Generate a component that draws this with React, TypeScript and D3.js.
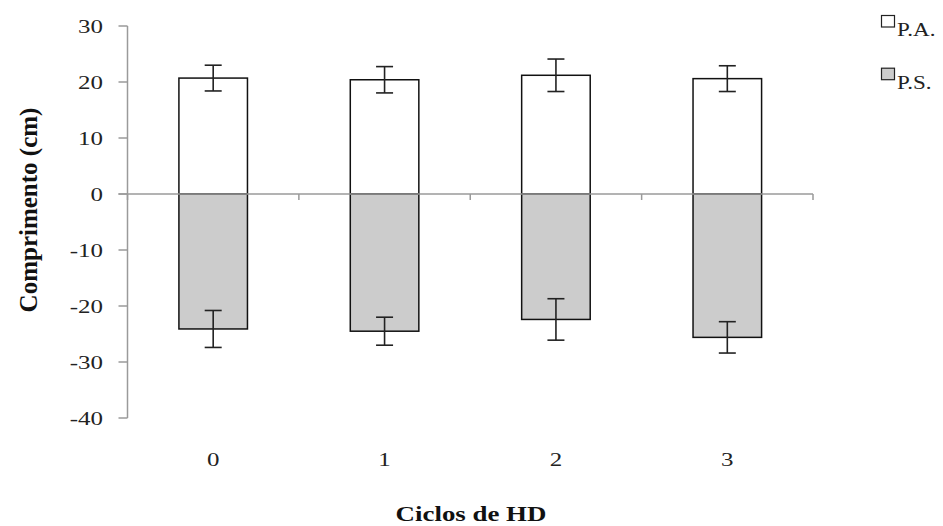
import React from "react";
import * as d3 from "d3";

const categories = ["0", "1", "2", "3"];
const paValues = [20.7, 20.4, 21.2, 20.6];
const paErrors = [2.3, 2.35, 2.9, 2.3];
const psValues = [-24.1, -24.5, -22.4, -25.6];
const psErrors = [3.3, 2.5, 3.7, 2.8];
const yTicks = [30, 20, 10, 0, -10, -20, -30, -40];
const legendLabels = ["P.A.", "P.S."];

const W = 943;
const H = 526;
const left = 127.5;
const right = 813;
const top = 26;
const bottom = 418;
const SX = 1.28;

export default function App() {
  const x = d3.scaleBand<string>().domain(categories).range([left, right]).padding(0);
  const y = d3.scaleLinear().domain([-40, 30]).range([bottom, top]);
  const bw = x.bandwidth() * 0.4;
  const cap = 8.5;
  const axisColor = "#9a9a9a";
  const tf = { fontFamily: '"Liberation Serif"' };
  const series = [
    { vals: paValues, errs: paErrors, fill: "#ffffff" },
    { vals: psValues, errs: psErrors, fill: "#cccccc" },
  ];
  const boundaries = categories.map((c) => x(c)!).concat([right]);

  return (
    <div style={{ position: "absolute", left: 0, top: 0 }}>
      <svg width={W} height={H} style={{ display: "block", background: "#fff" }}>
        {series.map((s, si) =>
          categories.map((c, i) => {
            const cx = x(c)! + x.bandwidth() / 2;
            const v = s.vals[i];
            const y0 = y(0);
            const y1 = y(v);
            return (
              <rect
                key={`b${si}-${i}`}
                x={cx - bw / 2}
                y={Math.min(y0, y1)}
                width={bw}
                height={Math.abs(y1 - y0)}
                fill={s.fill}
                stroke="#111"
                strokeWidth={1.5}
              />
            );
          })
        )}
        <line x1={left} x2={left} y1={y(30)} y2={y(-40)} stroke={axisColor} strokeWidth={1.5} />
        {yTicks.map((t) => (
          <g key={`yt${t}`}>
            <line x1={left - 9} x2={left} y1={y(t)} y2={y(t)} stroke={axisColor} strokeWidth={1.5} />
            <text
              transform={`translate(103, ${y(t)}) scale(${SX}, 1)`}
              dy="0.35em"
              textAnchor="end"
              fontSize={19.5}
              fill="#222"
              style={tf}
            >
              {t}
            </text>
          </g>
        ))}
        <line x1={left - 9} x2={right} y1={y(0)} y2={y(0)} stroke={axisColor} strokeWidth={1.5} />
        {boundaries.map((b, i) => (
          <line key={`xt${i}`} x1={b} x2={b} y1={y(0)} y2={y(0) + 6} stroke={axisColor} strokeWidth={1.5} />
        ))}
        {series.map((s, si) =>
          categories.map((c, i) => {
            const cx = x(c)! + x.bandwidth() / 2;
            const hi = y(s.vals[i] + s.errs[i]);
            const lo = y(s.vals[i] - s.errs[i]);
            return (
              <g key={`e${si}-${i}`} stroke="#222" strokeWidth={1.6}>
                <line x1={cx} x2={cx} y1={hi} y2={lo} />
                <line x1={cx - cap} x2={cx + cap} y1={hi} y2={hi} />
                <line x1={cx - cap} x2={cx + cap} y1={lo} y2={lo} />
              </g>
            );
          })
        )}
        {categories.map((c) => (
          <text
            key={`xl${c}`}
            transform={`translate(${x(c)! + x.bandwidth() / 2}, 466) scale(${SX}, 1)`}
            textAnchor="middle"
            fontSize={19.5}
            fill="#222"
            style={tf}
          >
            {c}
          </text>
        ))}
        <text
          transform={`translate(471, 521) scale(${SX}, 1)`}
          textAnchor="middle"
          fontSize={21}
          fontWeight="bold"
          fill="#111"
          style={tf}
        >
          Ciclos de HD
        </text>
        <text
          transform={`translate(37, 210) rotate(-90)`}
          textAnchor="middle"
          fontSize={25}
          fontWeight="bold"
          fill="#111"
          style={tf}
        >
          Comprimento (cm)
        </text>
        {legendLabels.map((l, i) => (
          <g key={`lg${i}`} transform={`translate(881, ${15 + i * 52.7})`}>
            <rect x={0.5} y={0.5} width={13} height={11.5} fill={series[i].fill} stroke="#222" strokeWidth={1.2} />
            <text transform={`translate(16, 21) scale(${SX}, 1)`} fontSize={18} fill="#222" style={tf}>
              {l}
            </text>
          </g>
        ))}
      </svg>
    </div>
  );
}
